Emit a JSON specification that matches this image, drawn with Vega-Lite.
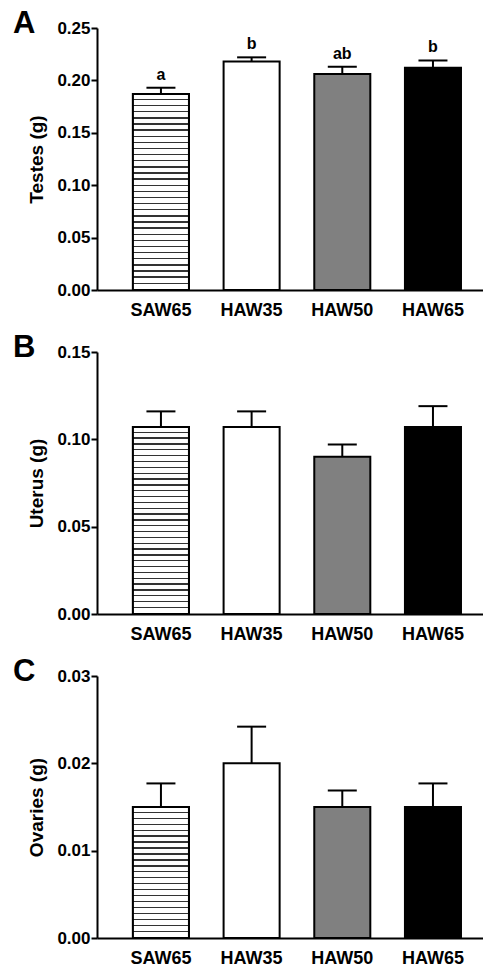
{
  "$schema": "https://vega.github.io/schema/vega-lite/v6.json",
  "padding": {"left": 13, "top": 8, "right": 0, "bottom": 0},
  "background": "white",
  "datasets": {
    "testes": [
      {"group": "SAW65", "mean": 0.187, "err": 0.193, "letter": "a"},
      {"group": "HAW35", "mean": 0.218, "err": 0.222, "letter": "b"},
      {"group": "HAW50", "mean": 0.206, "err": 0.213, "letter": "ab"},
      {"group": "HAW65", "mean": 0.212, "err": 0.219, "letter": "b"}
    ],
    "uterus": [
      {"group": "SAW65", "mean": 0.107, "err": 0.116},
      {"group": "HAW35", "mean": 0.107, "err": 0.116},
      {"group": "HAW50", "mean": 0.090, "err": 0.097},
      {"group": "HAW65", "mean": 0.107, "err": 0.119}
    ],
    "ovaries": [
      {"group": "SAW65", "mean": 0.015, "err": 0.0177},
      {"group": "HAW35", "mean": 0.020, "err": 0.0242},
      {"group": "HAW50", "mean": 0.015, "err": 0.0169},
      {"group": "HAW65", "mean": 0.015, "err": 0.0177}
    ]
  },
  "bounds": "flush",
  "spacing": 62,
  "vconcat": [
    {
      "width": 386,
      "height": 262,
      "title": {"text": "A"},
      "data": {"name": "testes"},
      "layer": [
        {
          "mark": {"type": "bar", "stroke": "black", "strokeWidth": 2},
          "encoding": {
            "x": {"field": "group", "type": "nominal", "scale": {"domain": ["SAW65", "HAW35", "HAW50", "HAW65"], "paddingInner": 0.382, "paddingOuter": 0.3195, "align": 0.62}, "axis": {"title": null}},
            "y": {"field": "mean", "type": "quantitative", "scale": {"domain": [0, 0.25], "nice": false}, "axis": {"title": "Testes (g)", "values": [0, 0.05, 0.1, 0.15, 0.2, 0.25], "format": ".2f"}},
            "fill": {"field": "group", "type": "nominal", "scale": {"domain": ["SAW65", "HAW35", "HAW50", "HAW65"], "range": ["white", "white", "#808080", "black"]}, "legend": null}
          }
        },
        {
          "transform": [{"filter": "datum.group === 'SAW65'"}],
          "mark": {"type": "bar", "stroke": "black", "strokeWidth": 2,
            "fill": {"gradient": "linear", "x1": 0, "y1": 0, "x2": 0, "y2": 1, "stops": [
              {"offset": 0, "color": "white"}, {"offset": 0.02425, "color": "white"}, {"offset": 0.02425, "color": "#333"}, {"offset": 0.03125, "color": "#333"},
              {"offset": 0.03125, "color": "white"}, {"offset": 0.0555, "color": "white"}, {"offset": 0.0555, "color": "#333"}, {"offset": 0.0625, "color": "#333"},
              {"offset": 0.0625, "color": "white"}, {"offset": 0.08675, "color": "white"}, {"offset": 0.08675, "color": "#333"}, {"offset": 0.09375, "color": "#333"},
              {"offset": 0.09375, "color": "white"}, {"offset": 0.118, "color": "white"}, {"offset": 0.118, "color": "#333"}, {"offset": 0.125, "color": "#333"},
              {"offset": 0.125, "color": "white"}, {"offset": 0.14925, "color": "white"}, {"offset": 0.14925, "color": "#333"}, {"offset": 0.15625, "color": "#333"},
              {"offset": 0.15625, "color": "white"}, {"offset": 0.1805, "color": "white"}, {"offset": 0.1805, "color": "#333"}, {"offset": 0.1875, "color": "#333"},
              {"offset": 0.1875, "color": "white"}, {"offset": 0.21175, "color": "white"}, {"offset": 0.21175, "color": "#333"}, {"offset": 0.21875, "color": "#333"},
              {"offset": 0.21875, "color": "white"}, {"offset": 0.243, "color": "white"}, {"offset": 0.243, "color": "#333"}, {"offset": 0.25, "color": "#333"},
              {"offset": 0.25, "color": "white"}, {"offset": 0.27425, "color": "white"}, {"offset": 0.27425, "color": "#333"}, {"offset": 0.28125, "color": "#333"},
              {"offset": 0.28125, "color": "white"}, {"offset": 0.3055, "color": "white"}, {"offset": 0.3055, "color": "#333"}, {"offset": 0.3125, "color": "#333"},
              {"offset": 0.3125, "color": "white"}, {"offset": 0.33675, "color": "white"}, {"offset": 0.33675, "color": "#333"}, {"offset": 0.34375, "color": "#333"},
              {"offset": 0.34375, "color": "white"}, {"offset": 0.368, "color": "white"}, {"offset": 0.368, "color": "#333"}, {"offset": 0.375, "color": "#333"},
              {"offset": 0.375, "color": "white"}, {"offset": 0.39925, "color": "white"}, {"offset": 0.39925, "color": "#333"}, {"offset": 0.40625, "color": "#333"},
              {"offset": 0.40625, "color": "white"}, {"offset": 0.4305, "color": "white"}, {"offset": 0.4305, "color": "#333"}, {"offset": 0.4375, "color": "#333"},
              {"offset": 0.4375, "color": "white"}, {"offset": 0.46175, "color": "white"}, {"offset": 0.46175, "color": "#333"}, {"offset": 0.46875, "color": "#333"},
              {"offset": 0.46875, "color": "white"}, {"offset": 0.493, "color": "white"}, {"offset": 0.493, "color": "#333"}, {"offset": 0.5, "color": "#333"},
              {"offset": 0.5, "color": "white"}, {"offset": 0.52425, "color": "white"}, {"offset": 0.52425, "color": "#333"}, {"offset": 0.53125, "color": "#333"},
              {"offset": 0.53125, "color": "white"}, {"offset": 0.5555, "color": "white"}, {"offset": 0.5555, "color": "#333"}, {"offset": 0.5625, "color": "#333"},
              {"offset": 0.5625, "color": "white"}, {"offset": 0.58675, "color": "white"}, {"offset": 0.58675, "color": "#333"}, {"offset": 0.59375, "color": "#333"},
              {"offset": 0.59375, "color": "white"}, {"offset": 0.618, "color": "white"}, {"offset": 0.618, "color": "#333"}, {"offset": 0.625, "color": "#333"},
              {"offset": 0.625, "color": "white"}, {"offset": 0.64925, "color": "white"}, {"offset": 0.64925, "color": "#333"}, {"offset": 0.65625, "color": "#333"},
              {"offset": 0.65625, "color": "white"}, {"offset": 0.6805, "color": "white"}, {"offset": 0.6805, "color": "#333"}, {"offset": 0.6875, "color": "#333"},
              {"offset": 0.6875, "color": "white"}, {"offset": 0.71175, "color": "white"}, {"offset": 0.71175, "color": "#333"}, {"offset": 0.71875, "color": "#333"},
              {"offset": 0.71875, "color": "white"}, {"offset": 0.743, "color": "white"}, {"offset": 0.743, "color": "#333"}, {"offset": 0.75, "color": "#333"},
              {"offset": 0.75, "color": "white"}, {"offset": 0.77425, "color": "white"}, {"offset": 0.77425, "color": "#333"}, {"offset": 0.78125, "color": "#333"},
              {"offset": 0.78125, "color": "white"}, {"offset": 0.8055, "color": "white"}, {"offset": 0.8055, "color": "#333"}, {"offset": 0.8125, "color": "#333"},
              {"offset": 0.8125, "color": "white"}, {"offset": 0.83675, "color": "white"}, {"offset": 0.83675, "color": "#333"}, {"offset": 0.84375, "color": "#333"},
              {"offset": 0.84375, "color": "white"}, {"offset": 0.868, "color": "white"}, {"offset": 0.868, "color": "#333"}, {"offset": 0.875, "color": "#333"},
              {"offset": 0.875, "color": "white"}, {"offset": 0.89925, "color": "white"}, {"offset": 0.89925, "color": "#333"}, {"offset": 0.90625, "color": "#333"},
              {"offset": 0.90625, "color": "white"}, {"offset": 0.9305, "color": "white"}, {"offset": 0.9305, "color": "#333"}, {"offset": 0.9375, "color": "#333"},
              {"offset": 0.9375, "color": "white"}, {"offset": 0.96175, "color": "white"}, {"offset": 0.96175, "color": "#333"}, {"offset": 0.96875, "color": "#333"},
              {"offset": 0.96875, "color": "white"}, {"offset": 0.993, "color": "white"}, {"offset": 0.993, "color": "#333"}, {"offset": 1, "color": "#333"}
            ]}},
          "encoding": {
            "x": {"field": "group", "type": "nominal"},
            "y": {"field": "mean", "type": "quantitative"}
          }
        },
        {
          "mark": {"type": "rule", "color": "black", "strokeWidth": 2},
          "encoding": {
            "x": {"field": "group", "type": "nominal"},
            "y": {"field": "mean", "type": "quantitative"},
            "y2": {"field": "err"}
          }
        },
        {
          "mark": {"type": "tick", "orient": "horizontal", "size": 29, "thickness": 2, "color": "black", "opacity": 1},
          "encoding": {
            "x": {"field": "group", "type": "nominal"},
            "y": {"field": "err", "type": "quantitative"}
          }
        },
        {
          "mark": {"type": "text", "baseline": "alphabetic", "dy": -8, "fontSize": 16, "fontWeight": "bold", "font": "Liberation Sans", "color": "black"},
          "encoding": {
            "x": {"field": "group", "type": "nominal"},
            "y": {"field": "err", "type": "quantitative"},
            "text": {"field": "letter"}
          }
        }
      ]
    },
    {
      "width": 386,
      "height": 262,
      "title": {"text": "B"},
      "data": {"name": "uterus"},
      "layer": [
        {
          "mark": {"type": "bar", "stroke": "black", "strokeWidth": 2},
          "encoding": {
            "x": {"field": "group", "type": "nominal", "scale": {"domain": ["SAW65", "HAW35", "HAW50", "HAW65"], "paddingInner": 0.382, "paddingOuter": 0.3195, "align": 0.62}, "axis": {"title": null}},
            "y": {"field": "mean", "type": "quantitative", "scale": {"domain": [0, 0.15], "nice": false}, "axis": {"title": "Uterus (g)", "values": [0, 0.05, 0.1, 0.15], "format": ".2f"}},
            "fill": {"field": "group", "type": "nominal", "scale": {"domain": ["SAW65", "HAW35", "HAW50", "HAW65"], "range": ["white", "white", "#808080", "black"]}, "legend": null}
          }
        },
        {
          "transform": [{"filter": "datum.group === 'SAW65'"}],
          "mark": {"type": "bar", "stroke": "black", "strokeWidth": 2,
            "fill": {"gradient": "linear", "x1": 0, "y1": 0, "x2": 0, "y2": 1, "stops": [
              {"offset": 0, "color": "white"}, {"offset": 0.02425, "color": "white"}, {"offset": 0.02425, "color": "#333"}, {"offset": 0.03125, "color": "#333"},
              {"offset": 0.03125, "color": "white"}, {"offset": 0.0555, "color": "white"}, {"offset": 0.0555, "color": "#333"}, {"offset": 0.0625, "color": "#333"},
              {"offset": 0.0625, "color": "white"}, {"offset": 0.08675, "color": "white"}, {"offset": 0.08675, "color": "#333"}, {"offset": 0.09375, "color": "#333"},
              {"offset": 0.09375, "color": "white"}, {"offset": 0.118, "color": "white"}, {"offset": 0.118, "color": "#333"}, {"offset": 0.125, "color": "#333"},
              {"offset": 0.125, "color": "white"}, {"offset": 0.14925, "color": "white"}, {"offset": 0.14925, "color": "#333"}, {"offset": 0.15625, "color": "#333"},
              {"offset": 0.15625, "color": "white"}, {"offset": 0.1805, "color": "white"}, {"offset": 0.1805, "color": "#333"}, {"offset": 0.1875, "color": "#333"},
              {"offset": 0.1875, "color": "white"}, {"offset": 0.21175, "color": "white"}, {"offset": 0.21175, "color": "#333"}, {"offset": 0.21875, "color": "#333"},
              {"offset": 0.21875, "color": "white"}, {"offset": 0.243, "color": "white"}, {"offset": 0.243, "color": "#333"}, {"offset": 0.25, "color": "#333"},
              {"offset": 0.25, "color": "white"}, {"offset": 0.27425, "color": "white"}, {"offset": 0.27425, "color": "#333"}, {"offset": 0.28125, "color": "#333"},
              {"offset": 0.28125, "color": "white"}, {"offset": 0.3055, "color": "white"}, {"offset": 0.3055, "color": "#333"}, {"offset": 0.3125, "color": "#333"},
              {"offset": 0.3125, "color": "white"}, {"offset": 0.33675, "color": "white"}, {"offset": 0.33675, "color": "#333"}, {"offset": 0.34375, "color": "#333"},
              {"offset": 0.34375, "color": "white"}, {"offset": 0.368, "color": "white"}, {"offset": 0.368, "color": "#333"}, {"offset": 0.375, "color": "#333"},
              {"offset": 0.375, "color": "white"}, {"offset": 0.39925, "color": "white"}, {"offset": 0.39925, "color": "#333"}, {"offset": 0.40625, "color": "#333"},
              {"offset": 0.40625, "color": "white"}, {"offset": 0.4305, "color": "white"}, {"offset": 0.4305, "color": "#333"}, {"offset": 0.4375, "color": "#333"},
              {"offset": 0.4375, "color": "white"}, {"offset": 0.46175, "color": "white"}, {"offset": 0.46175, "color": "#333"}, {"offset": 0.46875, "color": "#333"},
              {"offset": 0.46875, "color": "white"}, {"offset": 0.493, "color": "white"}, {"offset": 0.493, "color": "#333"}, {"offset": 0.5, "color": "#333"},
              {"offset": 0.5, "color": "white"}, {"offset": 0.52425, "color": "white"}, {"offset": 0.52425, "color": "#333"}, {"offset": 0.53125, "color": "#333"},
              {"offset": 0.53125, "color": "white"}, {"offset": 0.5555, "color": "white"}, {"offset": 0.5555, "color": "#333"}, {"offset": 0.5625, "color": "#333"},
              {"offset": 0.5625, "color": "white"}, {"offset": 0.58675, "color": "white"}, {"offset": 0.58675, "color": "#333"}, {"offset": 0.59375, "color": "#333"},
              {"offset": 0.59375, "color": "white"}, {"offset": 0.618, "color": "white"}, {"offset": 0.618, "color": "#333"}, {"offset": 0.625, "color": "#333"},
              {"offset": 0.625, "color": "white"}, {"offset": 0.64925, "color": "white"}, {"offset": 0.64925, "color": "#333"}, {"offset": 0.65625, "color": "#333"},
              {"offset": 0.65625, "color": "white"}, {"offset": 0.6805, "color": "white"}, {"offset": 0.6805, "color": "#333"}, {"offset": 0.6875, "color": "#333"},
              {"offset": 0.6875, "color": "white"}, {"offset": 0.71175, "color": "white"}, {"offset": 0.71175, "color": "#333"}, {"offset": 0.71875, "color": "#333"},
              {"offset": 0.71875, "color": "white"}, {"offset": 0.743, "color": "white"}, {"offset": 0.743, "color": "#333"}, {"offset": 0.75, "color": "#333"},
              {"offset": 0.75, "color": "white"}, {"offset": 0.77425, "color": "white"}, {"offset": 0.77425, "color": "#333"}, {"offset": 0.78125, "color": "#333"},
              {"offset": 0.78125, "color": "white"}, {"offset": 0.8055, "color": "white"}, {"offset": 0.8055, "color": "#333"}, {"offset": 0.8125, "color": "#333"},
              {"offset": 0.8125, "color": "white"}, {"offset": 0.83675, "color": "white"}, {"offset": 0.83675, "color": "#333"}, {"offset": 0.84375, "color": "#333"},
              {"offset": 0.84375, "color": "white"}, {"offset": 0.868, "color": "white"}, {"offset": 0.868, "color": "#333"}, {"offset": 0.875, "color": "#333"},
              {"offset": 0.875, "color": "white"}, {"offset": 0.89925, "color": "white"}, {"offset": 0.89925, "color": "#333"}, {"offset": 0.90625, "color": "#333"},
              {"offset": 0.90625, "color": "white"}, {"offset": 0.9305, "color": "white"}, {"offset": 0.9305, "color": "#333"}, {"offset": 0.9375, "color": "#333"},
              {"offset": 0.9375, "color": "white"}, {"offset": 0.96175, "color": "white"}, {"offset": 0.96175, "color": "#333"}, {"offset": 0.96875, "color": "#333"},
              {"offset": 0.96875, "color": "white"}, {"offset": 0.993, "color": "white"}, {"offset": 0.993, "color": "#333"}, {"offset": 1, "color": "#333"}
            ]}},
          "encoding": {
            "x": {"field": "group", "type": "nominal"},
            "y": {"field": "mean", "type": "quantitative"}
          }
        },
        {
          "mark": {"type": "rule", "color": "black", "strokeWidth": 2},
          "encoding": {
            "x": {"field": "group", "type": "nominal"},
            "y": {"field": "mean", "type": "quantitative"},
            "y2": {"field": "err"}
          }
        },
        {
          "mark": {"type": "tick", "orient": "horizontal", "size": 29, "thickness": 2, "color": "black", "opacity": 1},
          "encoding": {
            "x": {"field": "group", "type": "nominal"},
            "y": {"field": "err", "type": "quantitative"}
          }
        }
      ]
    },
    {
      "width": 386,
      "height": 262,
      "title": {"text": "C"},
      "data": {"name": "ovaries"},
      "layer": [
        {
          "mark": {"type": "bar", "stroke": "black", "strokeWidth": 2},
          "encoding": {
            "x": {"field": "group", "type": "nominal", "scale": {"domain": ["SAW65", "HAW35", "HAW50", "HAW65"], "paddingInner": 0.382, "paddingOuter": 0.3195, "align": 0.62}, "axis": {"title": null}},
            "y": {"field": "mean", "type": "quantitative", "scale": {"domain": [0, 0.03], "nice": false}, "axis": {"title": "Ovaries (g)", "values": [0, 0.01, 0.02, 0.03], "format": ".2f"}},
            "fill": {"field": "group", "type": "nominal", "scale": {"domain": ["SAW65", "HAW35", "HAW50", "HAW65"], "range": ["white", "white", "#808080", "black"]}, "legend": null}
          }
        },
        {
          "transform": [{"filter": "datum.group === 'SAW65'"}],
          "mark": {"type": "bar", "stroke": "black", "strokeWidth": 2,
            "fill": {"gradient": "linear", "x1": 0, "y1": 0, "x2": 0, "y2": 1, "stops": [
              {"offset": 0, "color": "white"}, {"offset": 0.0355, "color": "white"}, {"offset": 0.0355, "color": "#333"}, {"offset": 0.0455, "color": "#333"},
              {"offset": 0.0455, "color": "white"}, {"offset": 0.0809, "color": "white"}, {"offset": 0.0809, "color": "#333"}, {"offset": 0.0909, "color": "#333"},
              {"offset": 0.0909, "color": "white"}, {"offset": 0.1264, "color": "white"}, {"offset": 0.1264, "color": "#333"}, {"offset": 0.1364, "color": "#333"},
              {"offset": 0.1364, "color": "white"}, {"offset": 0.1718, "color": "white"}, {"offset": 0.1718, "color": "#333"}, {"offset": 0.1818, "color": "#333"},
              {"offset": 0.1818, "color": "white"}, {"offset": 0.2173, "color": "white"}, {"offset": 0.2173, "color": "#333"}, {"offset": 0.2273, "color": "#333"},
              {"offset": 0.2273, "color": "white"}, {"offset": 0.2627, "color": "white"}, {"offset": 0.2627, "color": "#333"}, {"offset": 0.2727, "color": "#333"},
              {"offset": 0.2727, "color": "white"}, {"offset": 0.3082, "color": "white"}, {"offset": 0.3082, "color": "#333"}, {"offset": 0.3182, "color": "#333"},
              {"offset": 0.3182, "color": "white"}, {"offset": 0.3536, "color": "white"}, {"offset": 0.3536, "color": "#333"}, {"offset": 0.3636, "color": "#333"},
              {"offset": 0.3636, "color": "white"}, {"offset": 0.3991, "color": "white"}, {"offset": 0.3991, "color": "#333"}, {"offset": 0.4091, "color": "#333"},
              {"offset": 0.4091, "color": "white"}, {"offset": 0.4445, "color": "white"}, {"offset": 0.4445, "color": "#333"}, {"offset": 0.4545, "color": "#333"},
              {"offset": 0.4545, "color": "white"}, {"offset": 0.49, "color": "white"}, {"offset": 0.49, "color": "#333"}, {"offset": 0.5, "color": "#333"},
              {"offset": 0.5, "color": "white"}, {"offset": 0.5355, "color": "white"}, {"offset": 0.5355, "color": "#333"}, {"offset": 0.5455, "color": "#333"},
              {"offset": 0.5455, "color": "white"}, {"offset": 0.5809, "color": "white"}, {"offset": 0.5809, "color": "#333"}, {"offset": 0.5909, "color": "#333"},
              {"offset": 0.5909, "color": "white"}, {"offset": 0.6264, "color": "white"}, {"offset": 0.6264, "color": "#333"}, {"offset": 0.6364, "color": "#333"},
              {"offset": 0.6364, "color": "white"}, {"offset": 0.6718, "color": "white"}, {"offset": 0.6718, "color": "#333"}, {"offset": 0.6818, "color": "#333"},
              {"offset": 0.6818, "color": "white"}, {"offset": 0.7173, "color": "white"}, {"offset": 0.7173, "color": "#333"}, {"offset": 0.7273, "color": "#333"},
              {"offset": 0.7273, "color": "white"}, {"offset": 0.7627, "color": "white"}, {"offset": 0.7627, "color": "#333"}, {"offset": 0.7727, "color": "#333"},
              {"offset": 0.7727, "color": "white"}, {"offset": 0.8082, "color": "white"}, {"offset": 0.8082, "color": "#333"}, {"offset": 0.8182, "color": "#333"},
              {"offset": 0.8182, "color": "white"}, {"offset": 0.8536, "color": "white"}, {"offset": 0.8536, "color": "#333"}, {"offset": 0.8636, "color": "#333"},
              {"offset": 0.8636, "color": "white"}, {"offset": 0.8991, "color": "white"}, {"offset": 0.8991, "color": "#333"}, {"offset": 0.9091, "color": "#333"},
              {"offset": 0.9091, "color": "white"}, {"offset": 0.9445, "color": "white"}, {"offset": 0.9445, "color": "#333"}, {"offset": 0.9545, "color": "#333"},
              {"offset": 0.9545, "color": "white"}, {"offset": 0.99, "color": "white"}, {"offset": 0.99, "color": "#333"}, {"offset": 1, "color": "#333"}
            ]}},
          "encoding": {
            "x": {"field": "group", "type": "nominal"},
            "y": {"field": "mean", "type": "quantitative"}
          }
        },
        {
          "mark": {"type": "rule", "color": "black", "strokeWidth": 2},
          "encoding": {
            "x": {"field": "group", "type": "nominal"},
            "y": {"field": "mean", "type": "quantitative"},
            "y2": {"field": "err"}
          }
        },
        {
          "mark": {"type": "tick", "orient": "horizontal", "size": 29, "thickness": 2, "color": "black", "opacity": 1},
          "encoding": {
            "x": {"field": "group", "type": "nominal"},
            "y": {"field": "err", "type": "quantitative"}
          }
        }
      ]
    }
  ],
  "config": {
    "view": {"stroke": null},
    "font": "Liberation Sans",
    "axis": {
      "domainColor": "black", "domainWidth": 2, "tickColor": "black", "tickWidth": 2, "tickSize": 6,
      "labelColor": "black", "labelFont": "Liberation Sans", "labelFontWeight": "bold",
      "titleFont": "Liberation Sans", "titleFontWeight": "bold", "titleColor": "black", "grid": false
    },
    "axisY": {"labelFontSize": 17, "labelPadding": 1, "titleFontSize": 19, "titlePadding": 10},
    "axisX": {"labelFontSize": 18, "ticks": false, "labelPadding": 11, "labelAngle": 0},
    "title": {"font": "Liberation Sans", "fontWeight": "bold", "fontSize": 31, "color": "black", "anchor": "start", "frame": "group", "dx": -84, "dy": 25, "baseline": "middle", "offset": 0}
  }
}
